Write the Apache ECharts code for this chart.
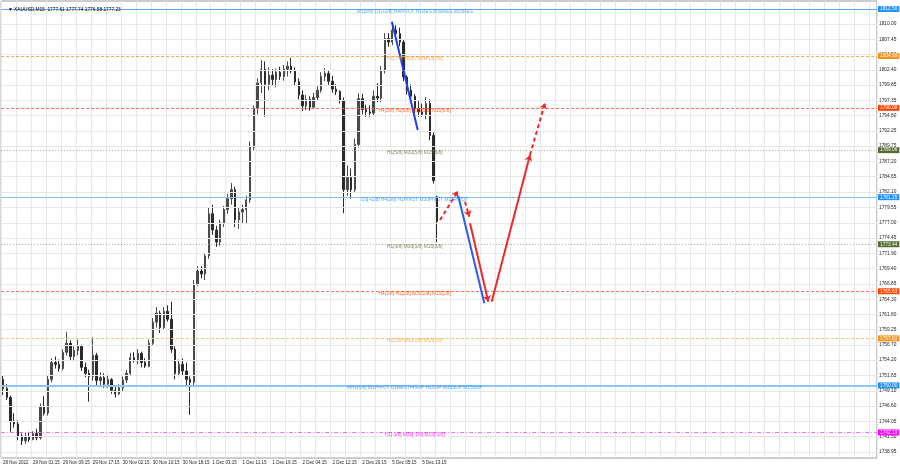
<!DOCTYPE html>
<html><head><meta charset="utf-8">
<script src="https://cdn.jsdelivr.net/npm/echarts@6/dist/echarts.min.js"></script>
<style>html,body{margin:0;padding:0;background:#fff}#c{width:900px;height:468px}</style>
</head><body><div id="c"></div>
<script>
// ---------- data ----------
const titleText = '\u25BC XAUUSD,M15  1777.61 1777.74 1776.58 1777.23';
const tickLabelsX = ['28 Nov 2022','29 Nov 01:15','29 Nov 09:15','29 Nov 17:15','30 Nov 02:15','30 Nov 10:15','30 Nov 18:15','1 Dec 03:15','1 Dec 11:15','1 Dec 19:15','2 Dec 04:15','2 Dec 12:15','2 Dec 20:15','5 Dec 05:15','5 Dec 13:15'];
const slotCount = 234;
const priceTicks = [1810.00,1807.45,1804.90,1802.40,1799.85,1797.35,1794.80,1792.25,1789.75,1787.20,1784.65,1782.10,1779.55,1777.00,1774.45,1771.90,1769.40,1766.85,1764.30,1761.80,1759.25,1756.70,1754.20,1751.65,1749.10,1746.60,1744.05,1741.50,1738.95];

const candleOpen = [1751.0,1749.5,1748.0,1744.0,1743.6,1741.6,1740.8,1741.5,1741.0,1742.0,1741.3,1746.5,1745.4,1751.0,1753.8,1753.5,1752.8,1755.5,1757.0,1754.8,1755.8,1756.5,1753.0,1752.0,1751.5,1755.0,1750.8,1751.3,1750.2,1751.0,1749.2,1748.6,1749.6,1750.9,1752.0,1754.6,1754.2,1755.3,1753.8,1753.2,1757.0,1760.5,1762.0,1759.6,1762.3,1761.0,1756.0,1752.0,1753.5,1752.4,1751.0,1750.5,1766.8,1769.0,1768.5,1771.5,1778.5,1775.8,1773.8,1777.0,1779.2,1781.0,1782.5,1777.5,1778.8,1779.2,1780.8,1789.5,1796.0,1800.2,1802.5,1800.0,1801.5,1800.8,1802.0,1801.3,1802.5,1803.0,1802.2,1800.4,1798.2,1796.4,1797.5,1796.2,1797.8,1799.0,1801.3,1801.8,1800.5,1799.2,1798.8,1797.3,1782.5,1784.5,1782.5,1790.0,1797.6,1795.8,1795.4,1795.2,1798.0,1797.7,1802.2,1807.6,1807.0,1809.0,1808.4,1807.0,1801.2,1799.0,1798.0,1796.0,1795.4,1795.0,1796.8,1791.5,1781.3];
const candleHigh = [1751.7,1750.2,1748.3,1745.4,1744.2,1742.0,1742.1,1742.3,1742.4,1742.8,1747.0,1748.2,1751.6,1754.5,1754.8,1754.3,1756.0,1758.9,1757.5,1756.5,1757.6,1756.8,1753.8,1752.6,1758.0,1755.4,1752.2,1752.0,1751.8,1751.2,1749.8,1750.2,1751.5,1752.6,1755.4,1755.5,1756.0,1755.6,1754.5,1757.6,1761.2,1763.0,1762.4,1763.0,1763.3,1763.9,1756.5,1754.3,1754.5,1753.8,1751.5,1767.5,1769.8,1769.8,1772.0,1779.6,1780.0,1776.5,1777.5,1779.8,1781.8,1783.6,1783.0,1779.5,1780.0,1781.5,1790.5,1796.5,1801.0,1804.0,1803.8,1802.8,1802.5,1802.6,1802.9,1803.2,1803.8,1804.4,1802.8,1801.0,1799.0,1798.2,1798.0,1798.6,1799.8,1802.0,1802.7,1802.3,1801.4,1800.0,1799.0,1797.8,1786.5,1786.0,1791.0,1798.5,1798.4,1796.6,1796.5,1799.0,1800.2,1803.0,1808.5,1808.5,1810.0,1809.8,1809.4,1807.4,1801.5,1800.0,1798.4,1797.4,1796.8,1797.9,1797.5,1792.0,1781.5];
const candleLow = [1748.4,1747.6,1742.3,1743.0,1740.9,1740.1,1740.3,1740.6,1740.9,1740.9,1741.0,1745.0,1745.0,1750.5,1752.8,1752.3,1752.5,1755.0,1754.2,1754.0,1755.0,1752.4,1751.4,1747.3,1750.8,1750.0,1749.8,1749.6,1749.6,1748.6,1748.0,1748.4,1749.0,1750.4,1751.6,1753.8,1753.5,1753.0,1752.9,1753.0,1756.6,1759.6,1758.7,1759.2,1760.6,1755.4,1751.0,1751.5,1751.6,1750.0,1745.1,1750.0,1766.5,1767.8,1767.5,1771.0,1775.0,1773.0,1773.2,1776.3,1778.5,1780.0,1776.3,1776.0,1776.8,1776.8,1780.3,1789.0,1795.0,1798.5,1794.6,1799.0,1799.8,1799.5,1800.7,1800.6,1801.3,1801.8,1799.8,1797.5,1795.6,1795.7,1795.6,1796.0,1797.2,1798.6,1800.5,1799.9,1798.6,1798.2,1796.8,1778.6,1781.5,1781.0,1782.0,1789.5,1795.0,1794.6,1794.6,1794.8,1797.0,1797.0,1801.8,1806.2,1806.5,1807.5,1806.3,1800.5,1798.3,1797.4,1795.2,1794.6,1794.6,1794.2,1790.7,1783.5,1773.8];
const candleClose = [1749.5,1748.0,1744.0,1743.6,1741.6,1740.8,1741.5,1741.0,1742.0,1741.3,1746.5,1745.4,1751.0,1753.8,1753.5,1752.8,1755.5,1757.0,1754.8,1755.8,1756.5,1753.0,1752.0,1751.5,1755.0,1750.8,1751.3,1750.2,1751.0,1749.2,1748.6,1749.6,1750.9,1752.0,1754.6,1754.2,1755.3,1753.8,1753.2,1757.0,1760.5,1762.0,1759.6,1762.3,1761.0,1756.0,1752.0,1753.5,1752.4,1751.0,1750.5,1766.8,1769.0,1768.5,1771.5,1778.5,1775.8,1773.8,1777.0,1779.2,1781.0,1782.5,1777.5,1778.8,1779.2,1780.8,1789.5,1796.0,1800.2,1802.5,1800.0,1801.5,1800.8,1802.0,1801.3,1802.5,1803.0,1802.2,1800.4,1798.2,1796.4,1797.5,1796.2,1797.8,1799.0,1801.3,1801.8,1800.5,1799.2,1798.8,1797.3,1782.5,1784.5,1782.5,1790.0,1797.6,1795.8,1795.4,1795.2,1798.0,1797.7,1802.2,1807.6,1807.0,1809.0,1808.4,1807.0,1801.2,1799.0,1798.0,1796.0,1795.4,1795.0,1796.8,1791.5,1784.0,1777.23];

const levelPrices = [1812.50,1804.69,1796.08,1789.06,1781.25,1773.44,1765.63,1757.81,1750.00,1742.19];
const levelTexts = [
  'W1[5/8] D1[+2/8] H4PIVOT H1RES M30RES M15RES',
  'H1[7/8] M30[7/8] M15[7/8]',
  'H4[3/8] H1[6/8] M30[6/8] M15[6/8]',
  'H1[5/8] M30[5/8] M15[5/8]',
  'D1[+1/8] H4[2/8] H1PIVOT M30PIVOT M15PIVOT',
  'H1[3/8] M30[3/8] M15[3/8]',
  'H4[1/8] H1[2/8] M30[2/8] M15[2/8]',
  'H1[1/8] M30[1/8] M15[1/8]',
  'MN1[6/8] W1PIVOT D1RES H4SUP H1SUP M30SUP M15SUP',
  'H1[-1/8] M30[-1/8] M15[-1/8]'
];
const lastPrice = 1777.23;
const levelTextSlot = 110;

// projection segments: [slot, price] start and end points
const projFrom = [[103.9,1810.38],[116.75,1777.46],[121.64,1781.45],[123.43,1780.50],[124.77,1776.92],[130.56,1763.90],[140.79,1788.25]];
const projTo   = [[110.8,1792.40],[121.56,1782.28],[128.59,1763.63],[124.58,1778.01],[129.65,1763.90],[140.79,1788.25],[144.8,1796.89]];

// ---------- styles ----------
const FONT = 'Liberation Sans';
const FS = 4.8;
const FSX = 4.5;
const levelStyles = [
  {line:'#5EACF5', type:'solid', w:1, box:'#1E90FF', text:'#2F95EE'},
  {line:'#F9A94B', type:[3,2], w:1, box:'#F7931E', text:'#F7931E'},
  {line:'#FF7043', type:[3,2], w:1, box:'#FF4500', text:'#FF4500'},
  {line:'#A8A880', type:[1,2], w:1, box:'#556B2F', text:'#556B2F'},
  {line:'#86C0F5', type:'solid', w:1, box:'#1E90FF', text:'#1E90FF'},
  {line:'#A8A880', type:[1,2], w:1, box:'#556B2F', text:'#556B2F'},
  {line:'#FF7043', type:[3,2], w:1, box:'#FF4500', text:'#FF4500'},
  {line:'#FBC27A', type:[3,2], w:1, box:'#F7931E', text:'#F7A030'},
  {line:'#8EC5F5', type:'solid', w:2, box:'#1E90FF', text:'#1E90FF'},
  {line:'#F070F0', type:[4,2,1,2], w:1, box:'#FF00FF', text:'#FF00FF'}
];
const projStyles = [
  {c:'#2040F0', type:'solid', arrow:false},
  {c:'#F02828', type:[4,3], arrow:true},
  {c:'#2F5AF0', type:'solid', arrow:false},
  {c:'#F02828', type:[4,3], arrow:true},
  {c:'#F02828', type:'solid', arrow:true},
  {c:'#F02828', type:'solid', arrow:true},
  {c:'#F02828', type:[4,3], arrow:true}
];

// ---------- build ----------
const categories = Array.from({length: slotCount}, (_, i) =>
  (i % 8 === 0 && i / 8 < tickLabelsX.length) ? tickLabelsX[i / 8] : 's' + i);
const candles = candleOpen.map((o, i) => [o, candleClose[i], candleLow[i], candleHigh[i]]);

const markData = [];
priceTicks.forEach(v => markData.push({
  yAxis: v,
  lineStyle: {color: '#E8E8E8', type: 'solid', width: 1},
  label: {show: true, position: 'end', distance: 2, formatter: v.toFixed(2), color: '#222', fontSize: FS, fontFamily: FONT}
}));
levelPrices.forEach((p, i) => {
  const s = levelStyles[i];
  markData.push({
    yAxis: p,
    lineStyle: {color: s.line, type: s.type, width: s.w},
    label: {show: true, position: 'end', distance: 1, formatter: p.toFixed(2), color: '#fff',
      backgroundColor: s.box, padding: [1, 2, 0, 2], fontSize: FS, fontFamily: FONT}
  });
});
markData.push({
  yAxis: lastPrice,
  lineStyle: {opacity: 0},
  label: {show: true, position: 'end', distance: 1, formatter: lastPrice.toFixed(2), color: '#fff',
    backgroundColor: '#000', padding: [1, 2, 0, 2], fontSize: FS, fontFamily: FONT}
});

const projData = projFrom.map((f, i) => {
  const s = projStyles[i];
  return [
    {coord: f, symbol: 'none', lineStyle: {color: s.c, type: s.type, width: 2}},
    {coord: projTo[i], symbol: s.arrow ? 'arrow' : 'none', symbolSize: 6, itemStyle: {color: s.c}}
  ];
});

const chart = echarts.init(document.getElementById('c'), null, {renderer: 'canvas'});
chart.setOption({
  animation: false,
  backgroundColor: '#fff',
  title: {text: titleText, left: 3, top: 2, textStyle: {fontSize: FS, fontWeight: 'normal', color: '#000', fontFamily: FONT}},
  grid: {left: 1, right: 23, top: 1, bottom: 10, show: true, borderColor: '#9A9A9A', borderWidth: 1, backgroundColor: '#fff'},
  xAxis: [
    {type: 'category', data: categories, boundaryGap: true,
      axisLine: {show: false}, axisTick: {show: false},
      axisLabel: {interval: (i) => i % 8 === 0 && i / 8 < tickLabelsX.length, fontSize: FSX, color: '#222', align: 'left', margin: 2, fontFamily: FONT},
      splitLine: {show: true, interval: 3, lineStyle: {color: '#E8E8E8', width: 1}}},
    {type: 'value', min: -0.5, max: slotCount - 0.5, show: false}
  ],
  yAxis: {type: 'value', position: 'right', min: 1737.95, max: 1813.82, scale: true,
    axisLine: {show: false}, axisTick: {show: false}, axisLabel: {show: false}, splitLine: {show: false}},
  series: [
    {type: 'candlestick', xAxisIndex: 0, yAxisIndex: 0, data: candles, barWidth: 1.9,
      itemStyle: {color: '#4A4A4A', color0: '#2A2A2A', borderColor: '#4A4A4A', borderColor0: '#2A2A2A', borderWidth: 1},
      markLine: {silent: true, symbol: ['none', 'none'], animation: false, data: markData}},
    {type: 'line', xAxisIndex: 1, yAxisIndex: 0, data: [], z: 5,
      markLine: {silent: true, animation: false, label: {show: false}, symbol: ['none', 'none'], data: projData}},
    {type: 'scatter', xAxisIndex: 1, yAxisIndex: 0, symbolSize: 0, z: 6, silent: true,
      data: levelPrices.map((p, i) => ({value: [levelTextSlot, p],
        label: {show: true, position: 'inside', offset: [0, 2.5], formatter: levelTexts[i], color: levelStyles[i].text, fontSize: FS, fontFamily: FONT}}))}
  ]
});
</script></body></html>
